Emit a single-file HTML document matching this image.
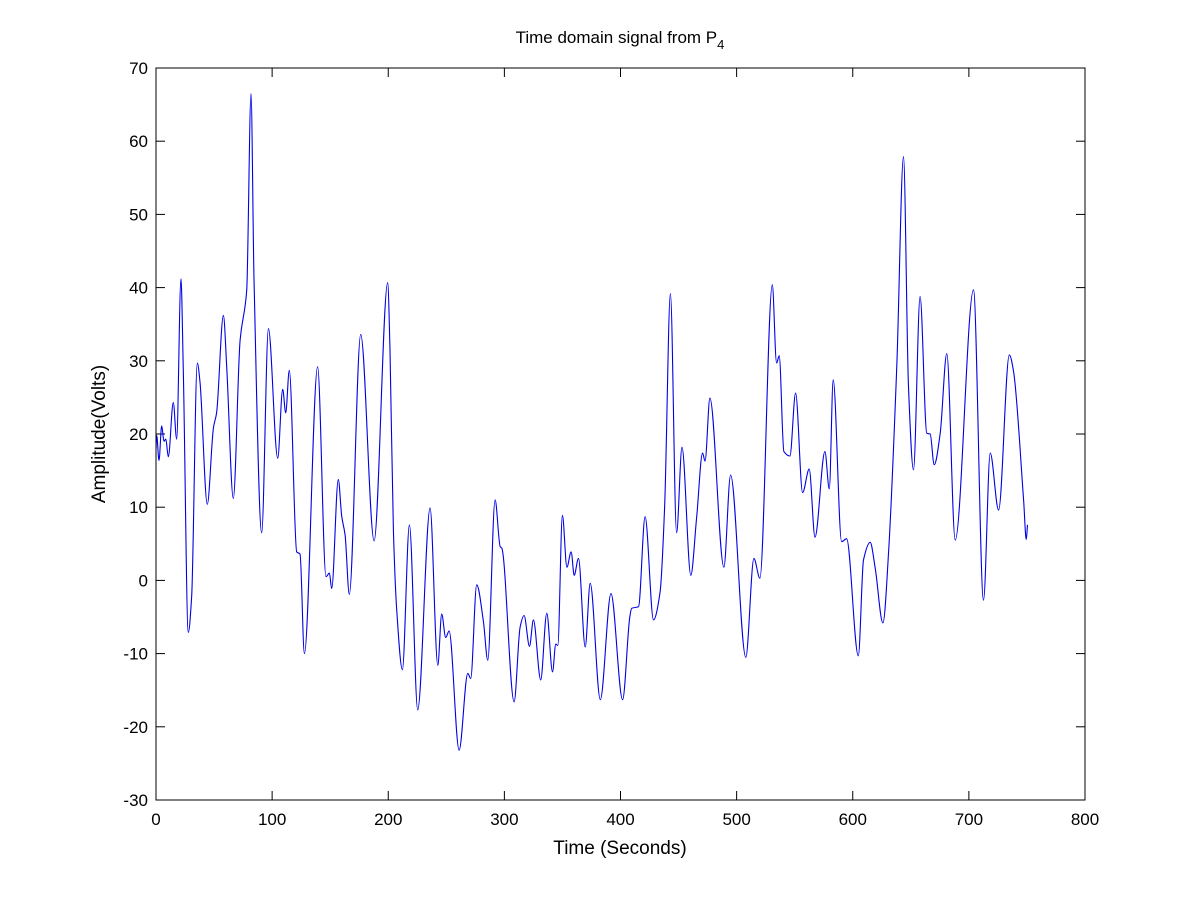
<!DOCTYPE html>
<html><head><meta charset="utf-8"><style>
body{margin:0;background:#fff;}
svg{display:block;font-family:"Liberation Sans",Arial,sans-serif;}
</style></head><body>
<svg id="chart" width="1200" height="900">
<rect width="1200" height="900" fill="#fff"/>
<text x="620" y="43" font-size="17" text-anchor="middle">Time domain signal from P<tspan font-size="13" dy="6">4</tspan></text>
<text x="620" y="854" font-size="19" text-anchor="middle">Time (Seconds)</text>
<text x="0" y="0" font-size="19" text-anchor="middle" transform="translate(105,434) rotate(-90)">Amplitude(Volts)</text>
<g id="ticks"></g>
<path id="sig" fill="none" stroke="#0000e6" stroke-width="1.1"/>
<rect x="156" y="68" width="929" height="732" fill="none" stroke="#000" stroke-width="1"/>
</svg>
<script>
const xTicks=[0,100,200,300,400,500,600,700,800];
const yTicks=[-30,-20,-10,0,10,20,30,40,50,60,70];
const times=[0,0.6,2.6,4.9,6.9,8.4,10.6,14.9,17.8,21.5,23.5,27.8,30.7,35.6,37.9,44.2,49.4,52.2,58,60.9,66.6,72.4,78.1,81.8,84.4,91,96.8,104.8,109.1,111.7,114.8,121.2,124,127.8,139.2,146.4,149.3,151.3,157,159.9,162.8,166.5,176.3,187.8,199.5,201.5,204.4,207.3,212.2,218.2,225.4,236,242.7,246,249.5,252.4,261,268.5,271,276.2,282,285.7,292,296.4,297.8,308.4,313.5,317,321.6,325,331.3,336.5,341.4,344.3,346,350,353.8,357.5,360.1,363.8,369.6,373.9,382.6,391.8,401.8,408,409.7,415.5,421.2,428.4,434,438,443,448.3,453,460.5,465.6,470.7,472.8,477,489,494.8,507.9,514.9,520,530.7,534.4,536.7,540.7,545.9,550.8,556.8,562.5,567.5,576,579.8,583.2,590.4,594.7,604.8,609.3,615,619.3,626,630.8,638,643.7,648,652.3,658,663.8,666.7,670.1,675.3,681,688.2,704,712.6,718.4,725.6,734.8,738.5,747.1,749.4,750.5];
const volts=[18,19.8,16.4,21.1,19,19.3,16.9,24.3,19.3,41.2,28.7,-7.1,-2.1,29.7,27.1,10.4,20.8,22.9,36.2,29.2,11.2,32.8,39.6,66.5,41.2,6.5,34.4,16.7,26.1,22.9,28.7,3.9,3.6,-10,29.2,0.5,1,-1.1,13.8,8.8,6.2,-1.9,33.6,5.4,40.7,31.5,6.9,-4,-12.2,7.6,-17.7,9.9,-11.6,-4.6,-7.8,-6.9,-23.2,-12.7,-13.4,-0.6,-5.7,-10.9,11,4.6,4.4,-16.6,-6.4,-4.8,-9,-5.4,-13.6,-4.5,-12.5,-8.7,-8.9,8.9,1.8,3.9,0.7,3,-9.1,-0.4,-16.3,-1.8,-16.3,-5,-3.8,-3.6,8.7,-5.4,-1.7,10,39.2,6.5,18.2,0.7,8.7,17.4,16.3,24.9,1.8,14.4,-10.5,3,0.3,40.4,29.7,30.7,17.6,17,25.6,12,15.2,5.9,17.6,12.5,27.4,5.3,5.7,-10.3,2.8,5.2,1.7,-5.8,3.7,29.7,57.9,26.4,15.1,38.8,20.1,20,15.8,20.1,31,5.5,39.7,-2.7,17.4,9.6,30.8,28.5,11,5.6,7.6];
const X0=156,X1=1085,Y0=800,Y1=68;
const sx=t=>X0+(t-0)/(800-0)*(X1-X0);
const sy=v=>Y0-(v+30)/100*(Y0-Y1);
const NS='http://www.w3.org/2000/svg';
const g=document.getElementById('ticks');
function line(x1,y1,x2,y2){const l=document.createElementNS(NS,'line');l.setAttribute('x1',x1);l.setAttribute('y1',y1);l.setAttribute('x2',x2);l.setAttribute('y2',y2);l.setAttribute('stroke','#000');


g.appendChild(l);}
function label(x,y,s,anchor){const t=document.createElementNS(NS,'text');t.setAttribute('x',x);t.setAttribute('y',y);t.setAttribute('font-size','17');t.setAttribute('text-anchor',anchor);t.textContent=s;


g.appendChild(t);}
xTicks.forEach(v=>{const x=sx(v);line(x,Y0,x,Y0-9);line(x,Y1,x,Y1+9);label(x,Y0+25,String(v),'middle');});
yTicks.forEach(v=>{const y=sy(v);line(X0,y,X0+9,y);line(X1,y,X1-9,y);label(X0-8,y+6,String(v),'end');});
// monotone cubic path through data points
const P=times.map((t,i)=>[sx(t),sy(volts[i])]);
const n=P.length,d=[],m=[];
for(let i=0;i<n-1;i++)d.push((P[i+1][1]-P[i][1])/(P[i+1][0]-P[i][0]));
for(let i=0;i<n;i++){
  if(i===0)m.push(d[0]);else if(i===n-1)m.push(d[n-2]);
  else m.push(d[i-1]*d[i]<=0?0:2/(1/d[i-1]+1/d[i]));
}
let s='M'+P[0][0].toFixed(1)+','+P[0][1].toFixed(1);
for(let i=0;i<n-1;i++){
  const h=(P[i+1][0]-P[i][0])/3;
  s+='C'+(P[i][0]+h).toFixed(1)+','+(P[i][1]+m[i]*h).toFixed(1)+' '+(P[i+1][0]-h).toFixed(1)+','+(P[i+1][1]-m[i+1]*h).toFixed(1)+' '+P[i+1][0].toFixed(1)+','+P[i+1][1].toFixed(1);
}
document.getElementById('sig').setAttribute('d',s);
</script>
</body></html>
